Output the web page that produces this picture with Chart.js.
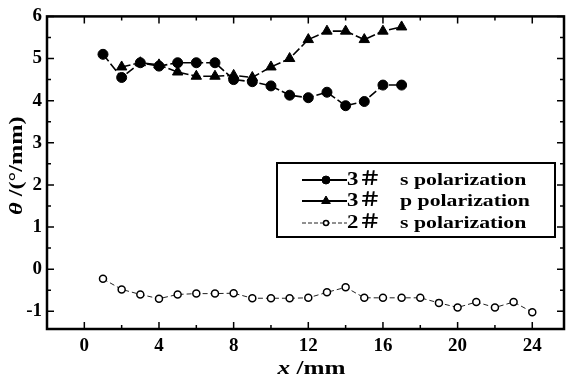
<!DOCTYPE html>
<html>
<head>
<meta charset="utf-8">
<script src="https://cdn.jsdelivr.net/npm/chart.js@4/dist/chart.umd.min.js"></script>
<style>
html, body { margin: 0; padding: 0; background: #fff; }
</style>
</head>
<body>
<canvas id="thetaChart" width="571" height="378"></canvas>
<script>
// positions along the sample (mm) and measured deflection angle (deg/mm)
const xS3 = [1, 2, 3, 4, 5, 6, 7, 8, 9, 10, 11, 12, 13, 14, 15, 16, 17];
const thetaS3 = [5.1, 4.55, 4.9, 4.82, 4.9, 4.9, 4.9, 4.5, 4.45, 4.35, 4.13, 4.07, 4.2, 3.88, 3.98, 4.37, 4.37];

const xP3 = [2, 3, 4, 5, 6, 7, 8, 9, 10, 11, 12, 13, 14, 15, 16, 17];
const thetaP3 = [4.8, 4.9, 4.85, 4.68, 4.58, 4.58, 4.6, 4.55, 4.8, 5.0, 5.45, 5.65, 5.65, 5.45, 5.65, 5.75];

const xS2 = [1, 2, 3, 4, 5, 6, 7, 8, 9, 10, 11, 12, 13, 14, 15, 16, 17, 18, 19, 20, 21, 22, 23, 24];
const thetaS2 = [-0.23, -0.48, -0.6, -0.7, -0.6, -0.58, -0.58, -0.57, -0.69, -0.69, -0.69, -0.68,
                 -0.55, -0.43, -0.68, -0.68, -0.68, -0.68, -0.8, -0.91, -0.78, -0.91, -0.78, -1.02];

const sampleNames = ['3\uFF03', '3\uFF03', '2\uFF03'];
const polarNames = ['s polarization', 'p polarization', 's polarization'];

const xTicks = [0, 4, 8, 12, 16, 20, 24];
const yTicks = [-1, 0, 1, 2, 3, 4, 5, 6];

const serif = "'Liberation Serif', 'Noto Sans CJK SC', serif";

const pairs = (xs, ys) => xs.map((v, i) => ({ x: v, y: ys[i] }));

// draws text pieces [text, font] one after another, stretched horizontally
function stretchedText(ctx, pieces, cx, cy, stretch) {
    let total = 0;
    const widths = pieces.map(([t, f]) => { ctx.font = f; const w = ctx.measureText(t).width; total += w; return w; });
    ctx.save();
    ctx.translate(cx, cy);
    ctx.scale(stretch, 1);
    let sx = -total / 2;
    pieces.forEach(([t, f], i) => { ctx.font = f; ctx.fillText(t, sx, 0); sx += widths[i]; });
    ctx.restore();
}

// frame, inward tick marks, legend box and axis titles
const framePlugin = {
    id: 'frame',
    beforeDatasetsDraw(chart) {
        const { ctx, chartArea: a, scales: { x, y } } = chart;
        const minorX = xTicks.slice(1).map((v, i) => (v + xTicks[i]) / 2);
        const minorY = yTicks.slice(1).map((v, i) => (v + yTicks[i]) / 2);
        ctx.save();
        ctx.strokeStyle = '#000';
        ctx.lineWidth = 1.5;
        ctx.beginPath();
        const xMark = (v, len) => {
            const px = x.getPixelForValue(v);
            ctx.moveTo(px, a.bottom); ctx.lineTo(px, a.bottom - len);
            ctx.moveTo(px, a.top); ctx.lineTo(px, a.top + len);
        };
        const yMark = (v, len) => {
            const py = y.getPixelForValue(v);
            ctx.moveTo(a.left, py); ctx.lineTo(a.left + len, py);
            ctx.moveTo(a.right, py); ctx.lineTo(a.right - len, py);
        };
        xTicks.forEach(v => xMark(v, 7));
        minorX.forEach(v => xMark(v, 4));
        yTicks.forEach(v => yMark(v, 7));
        minorY.forEach(v => yMark(v, 4));
        ctx.stroke();
        ctx.lineWidth = 2.5;
        ctx.strokeRect(a.left, a.top, a.right - a.left, a.bottom - a.top);
        ctx.restore();
    },
    afterDraw(chart) {
        const { ctx, chartArea: a } = chart;
        ctx.save();
        ctx.fillStyle = '#000';
        ctx.strokeStyle = '#000';
        ctx.textBaseline = 'middle';

        // legend
        const box = { left: 277, top: 163, right: 555, bottom: 237 };
        ctx.lineWidth = 2;
        ctx.strokeRect(box.left, box.top, box.right - box.left, box.bottom - box.top);
        const rows = [180, 201, 223];
        chart.data.datasets.forEach((ds, i) => {
            const ry = rows[i];
            ctx.save();
            ctx.lineWidth = i < 2 ? 2 : 1;
            ctx.strokeStyle = ds.borderColor;
            if (i === 2) ctx.setLineDash([4, 2]);
            ctx.beginPath();
            ctx.moveTo(302, ry); ctx.lineTo(347, ry);
            ctx.stroke();
            ctx.restore();
            ctx.save();
            ctx.fillStyle = ds.pointBackgroundColor;
            ctx.strokeStyle = ds.pointBorderColor;
            ctx.lineWidth = ds.pointBorderWidth;
            Chart.helpers.drawPoint(ctx, {
                pointStyle: ds.pointStyle,
                radius: ds.pointRadius - 1,
                borderWidth: ds.pointBorderWidth
            }, 326, ry);
            ctx.restore();
            ctx.save();
            ctx.textAlign = 'left';
            ctx.translate(347, ry);
            ctx.scale(1.2, 1);
            ctx.font = 'bold 19px ' + serif;
            ctx.fillText(sampleNames[i], 0, 0);
            ctx.restore();
            ctx.save();
            ctx.textAlign = 'left';
            ctx.translate(400, ry + 1);
            ctx.scale(1.36, 1);
            ctx.font = 'bold 16px ' + serif;
            ctx.fillText(polarNames[i], 0, 0);
            ctx.restore();
        });

        // x axis title
        ctx.textAlign = 'left';
        stretchedText(ctx, [['x', 'italic bold 18px ' + serif], [' /mm', 'bold 18px ' + serif]],
            (a.left + a.right) / 2 + 6, 369, 1.4);

        // y axis title
        ctx.save();
        ctx.translate(17, (a.top + a.bottom) / 2 - 7);
        ctx.rotate(-Math.PI / 2);
        stretchedText(ctx, [['\u03B8', 'italic bold 18px ' + serif], [' /(\u00B0/mm)', 'bold 18px ' + serif]],
            0, 0, 1.35);
        ctx.restore();
        ctx.restore();
    }
};

const config = {
    type: 'line',
    data: {
        datasets: [{
            label: sampleNames[0] + ' ' + polarNames[0],
            data: pairs(xS3, thetaS3),
            borderColor: '#000',
            borderWidth: 1.6,
            borderDash: [9, 3],
            pointStyle: 'circle',
            pointRadius: 5,
            pointBackgroundColor: '#000',
            pointBorderColor: '#000',
            pointBorderWidth: 1
        }, {
            label: sampleNames[1] + ' ' + polarNames[1],
            data: pairs(xP3, thetaP3),
            borderColor: '#000',
            borderWidth: 1.6,
            borderDash: [9, 3],
            pointStyle: 'triangle',
            pointRadius: 6,
            pointBackgroundColor: '#000',
            pointBorderColor: '#000',
            pointBorderWidth: 1
        }, {
            label: sampleNames[2] + ' ' + polarNames[2],
            data: pairs(xS2, thetaS2),
            borderColor: '#222',
            borderWidth: 1,
            borderDash: [5, 3],
            pointStyle: 'circle',
            pointRadius: 3.5,
            pointBackgroundColor: '#fff',
            pointBorderColor: '#000',
            pointBorderWidth: 1.5
        }]
    },
    options: {
        responsive: false,
        animation: false,
        devicePixelRatio: 1,
        layout: { padding: { left: 0, top: 14, right: 1, bottom: 0 } },
        plugins: {
            legend: { display: false },
            tooltip: { enabled: false }
        },
        scales: {
            x: {
                type: 'linear',
                min: -2,
                max: 25.7,
                afterBuildTicks: s => { s.ticks = xTicks.map(v => ({ value: v })); },
                afterFit: s => { s.height = 49; },
                grid: { display: false, drawTicks: false },
                border: { display: false },
                ticks: {
                    color: '#000',
                    padding: 6,
                    maxRotation: 0,
                    font: { family: serif, size: 19, weight: 'bold' }
                }
            },
            y: {
                type: 'linear',
                min: -1.42,
                max: 6,
                afterBuildTicks: s => { s.ticks = yTicks.map(v => ({ value: v })); },
                afterFit: s => { s.width = 47; },
                grid: { display: false, drawTicks: false },
                border: { display: false },
                ticks: {
                    color: '#000',
                    padding: 5,
                    font: { family: serif, size: 19, weight: 'bold' }
                }
            }
        }
    },
    plugins: [framePlugin]
};

const ctx = document.getElementById('thetaChart').getContext('2d');
new Chart(ctx, config);
</script>
</body>
</html>
